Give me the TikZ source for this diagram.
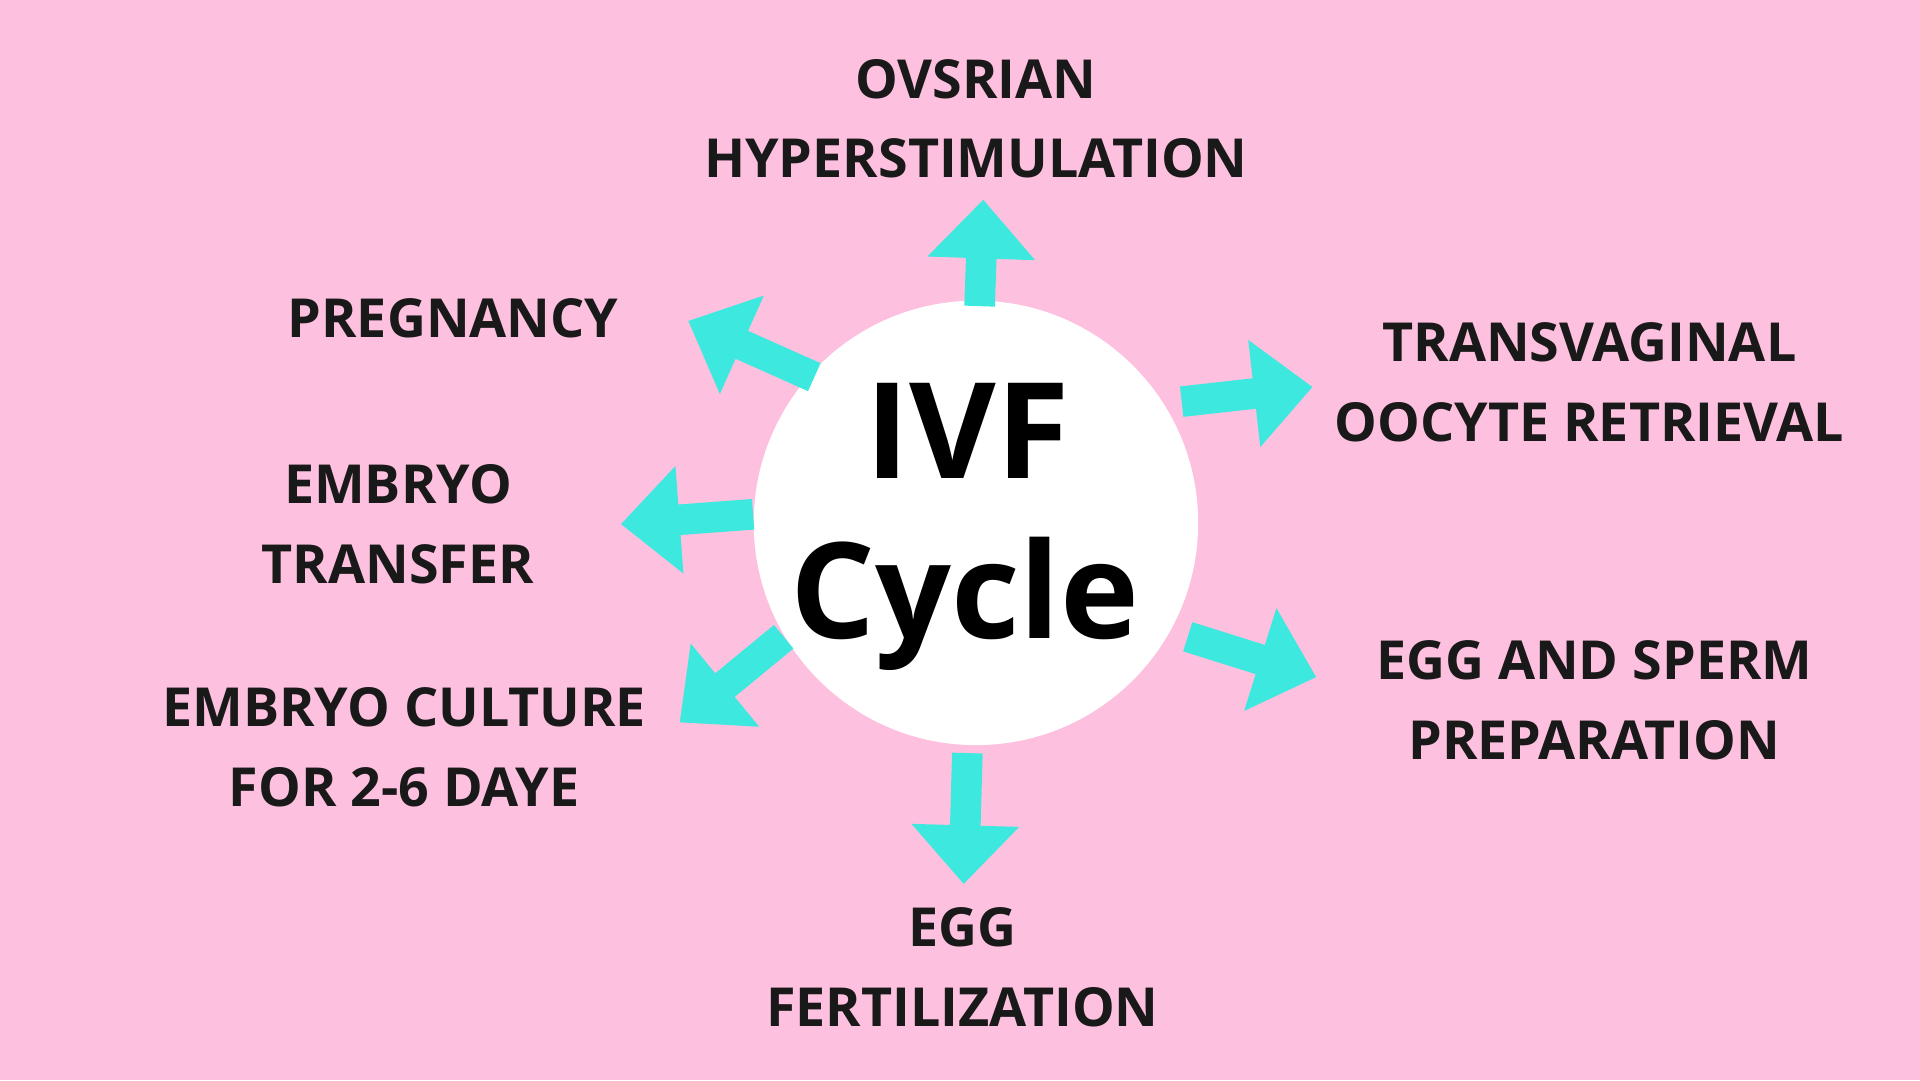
\documentclass[tikz,border=0pt]{standalone}
\usepackage{fontspec}
\setmainfont{Open Sans}
\usetikzlibrary{arrows.meta}
\definecolor{bgpink}{HTML}{FDC1DF}
\definecolor{ivfcyan}{HTML}{3DE8DE}
\tikzset{
  stage/.style={font=\bfseries\fontsize{12.5}{18.5}\selectfont, align=center, text=black!90},
  flow/.style={ivfcyan, line width=2.5mm, -{Triangle[length=4.8mm,width=8.5mm]}}
}
\begin{document}
\begin{tikzpicture}[x=1cm,y=1cm]
    % Background
    \fill[bgpink] (0,0) rectangle (15.68,-8.82);
    \useasboundingbox (0,0) rectangle (15.68,-8.82);

    % Centre circle
    \node[circle, fill=white, minimum size=3.63cm, inner sep=0pt] (ivf) at (7.97,-4.27) {};
    \node[font=\bfseries\fontsize{31}{31}\selectfont] (ivftxt) at (7.90,-3.52) {IVF};
    \node[font=\bfseries\fontsize{31}{31}\selectfont] (cycle) at (7.88,-4.93) {Cycle};

    % Stages
    \node[stage] (ovar) at (7.97,-0.97) {OVSRIAN\\HYPERSTIMULATION};
    \node[stage] (retr) at (12.98,-3.12) {TRANSVAGINAL\\OOCYTE RETRIEVAL};
    \node[stage] (prep) at (13.02,-5.72) {EGG AND SPERM\\PREPARATION};
    \node[stage] (fert) at (7.86,-7.90) {EGG\\FERTILIZATION};
    \node[stage] (cult) at (3.30,-6.10) {EMBRYO CULTURE\\FOR 2-6 DAYE};
    \node[stage] (trans) at (3.25,-4.28) {EMBRYO\\TRANSFER};
    \node[stage] (preg) at (3.70,-2.60) {PREGNANCY};

    % Arrow ends
    \coordinate (a1) at (8.00,-2.50); \coordinate (b1) at (8.03,-1.63);
    \coordinate (a2) at (9.65,-3.28); \coordinate (b2) at (10.72,-3.16);
    \coordinate (a3) at (9.70,-5.20); \coordinate (b3) at (10.75,-5.53);
    \coordinate (a4) at (7.90,-6.15); \coordinate (b4) at (7.87,-7.22);
    \coordinate (a5) at (6.40,-5.20); \coordinate (b5) at (5.55,-5.90);
    \coordinate (a6) at (6.15,-4.20); \coordinate (b6) at (5.07,-4.28);
    \coordinate (a7) at (6.65,-3.08); \coordinate (b7) at (5.62,-2.62);

    % Arrows
    \foreach \i in {1,...,7} {
        \draw[flow] (a\i) -- (b\i);
    }
\end{tikzpicture}
\end{document}
